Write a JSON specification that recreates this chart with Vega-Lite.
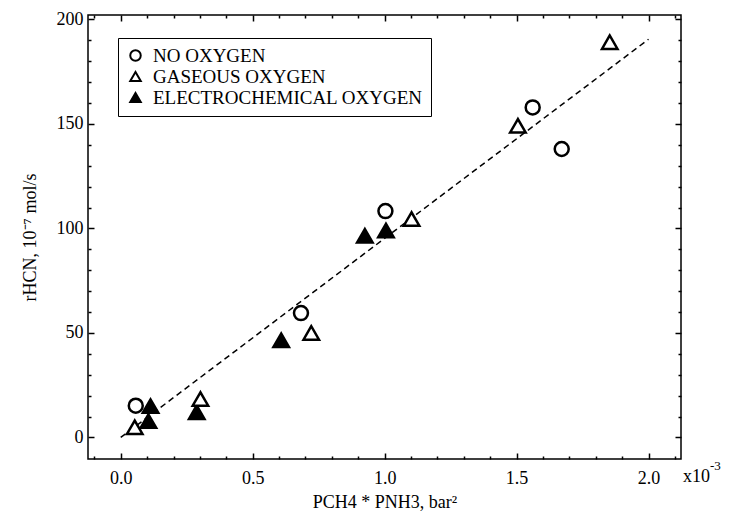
{
  "$schema": "https://vega.github.io/schema/vega-lite/v6.json",
  "width": 593,
  "height": 444,
  "autosize": "none",
  "padding": {"left": 88, "top": 15, "right": 48, "bottom": 61},
  "background": "white",
  "datasets": {
    "fit": [{"p": 0, "r": 0}, {"p": 2.0, "r": 190.5}],
    "pts": [
      {"p": 0.057, "r": 15.2, "condition": "NO OXYGEN"},
      {"p": 0.683, "r": 59.5, "condition": "NO OXYGEN"},
      {"p": 1.003, "r": 108.3, "condition": "NO OXYGEN"},
      {"p": 1.561, "r": 157.9, "condition": "NO OXYGEN"},
      {"p": 1.671, "r": 138.0, "condition": "NO OXYGEN"},
      {"p": 0.113, "r": 15.0, "condition": "ELECTROCHEMICAL OXYGEN"},
      {"p": 0.105, "r": 7.8, "condition": "ELECTROCHEMICAL OXYGEN"},
      {"p": 0.288, "r": 12.1, "condition": "ELECTROCHEMICAL OXYGEN"},
      {"p": 0.608, "r": 46.5, "condition": "ELECTROCHEMICAL OXYGEN"},
      {"p": 0.925, "r": 96.5, "condition": "ELECTROCHEMICAL OXYGEN"},
      {"p": 1.005, "r": 99.0, "condition": "ELECTROCHEMICAL OXYGEN"},
      {"p": 0.053, "r": 4.9, "condition": "GASEOUS OXYGEN"},
      {"p": 0.302, "r": 18.4, "condition": "GASEOUS OXYGEN"},
      {"p": 0.722, "r": 50.0, "condition": "GASEOUS OXYGEN"},
      {"p": 1.102, "r": 104.5, "condition": "GASEOUS OXYGEN"},
      {"p": 1.505, "r": 149.1, "condition": "GASEOUS OXYGEN"},
      {"p": 1.853, "r": 189.1, "condition": "GASEOUS OXYGEN"}
    ],
    "one": [{"k": 1}]
  },
  "layer": [
    {
      "data": {"name": "fit"},
      "mark": {"type": "line", "color": "black", "strokeWidth": 1.5, "strokeDash": [6, 4]},
      "encoding": {
        "x": {
          "field": "p", "type": "quantitative",
          "scale": {"domain": [-0.124, 2.123], "nice": false, "zero": false},
          "axis": {"orient": "bottom", "values": [0, 0.5, 1, 1.5, 2], "format": ".1f", "tickSize": -6, "labelPadding": 16, "title": "PCH4 * PNH3, bar²", "titlePadding": 6}
        },
        "y": {
          "field": "r", "type": "quantitative",
          "scale": {"domain": [-10.3, 202.1], "nice": false, "zero": false},
          "axis": {"orient": "left", "values": [0, 50, 100, 150, 200], "format": "d", "tickSize": -6, "labelPadding": 11, "title": "rHCN, 10⁻⁷ mol/s", "titlePadding": 17}
        }
      }
    },
    {
      "data": {"name": "pts"},
      "mark": {"type": "point", "filled": true, "strokeWidth": 2.5, "opacity": 1},
      "encoding": {
        "x": {
          "field": "p", "type": "quantitative",
          "axis": {"orient": "bottom", "values": [-0.1, 0.1, 0.2, 0.3, 0.4, 0.6, 0.7, 0.8, 0.9, 1.1, 1.2, 1.3, 1.4, 1.6, 1.7, 1.8, 1.9, 2.1], "tickSize": -3, "labels": false, "title": null}
        },
        "y": {
          "field": "r", "type": "quantitative",
          "axis": {"orient": "left", "values": [10, 20, 30, 40, 60, 70, 80, 90, 110, 120, 130, 140, 160, 170, 180, 190], "tickSize": -3, "labels": false, "title": null}
        },
        "shape": {
          "field": "condition", "type": "nominal",
          "scale": {"domain": ["NO OXYGEN", "GASEOUS OXYGEN", "ELECTROCHEMICAL OXYGEN"], "range": ["circle", "triangle-up", "triangle-up"]},
          "legend": {"title": null, "orient": "none", "legendX": 30, "legendY": 23}
        },
        "fill": {
          "field": "condition", "type": "nominal",
          "scale": {"domain": ["NO OXYGEN", "GASEOUS OXYGEN", "ELECTROCHEMICAL OXYGEN"], "range": ["white", "white", "black"]},
          "legend": {"title": null, "orient": "none", "legendX": 30, "legendY": 23}
        },
        "stroke": {
          "field": "condition", "type": "nominal",
          "scale": {"domain": ["NO OXYGEN", "GASEOUS OXYGEN", "ELECTROCHEMICAL OXYGEN"], "range": ["black", "black", "black"]},
          "legend": {"title": null, "orient": "none", "legendX": 30, "legendY": 23}
        },
        "size": {
          "condition": {"test": "datum.condition === 'NO OXYGEN'", "value": 195},
          "value": 240
        }
      }
    },
    {
      "data": {"name": "one"},
      "mark": {"type": "text", "text": "x10", "align": "left", "baseline": "alphabetic", "dx": 2, "dy": 23, "font": "Liberation Serif", "fontSize": 18, "color": "black"},
      "encoding": {
        "x": {"datum": 2.123, "type": "quantitative", "axis": {"orient": "top", "values": [0, 0.5, 1, 1.5, 2], "tickSize": -6, "labels": false, "title": null}},
        "y": {"datum": -10.3, "type": "quantitative", "axis": {"orient": "right", "values": [0, 50, 100, 150, 200], "tickSize": -6, "labels": false, "title": null}}
      }
    },
    {
      "data": {"name": "one"},
      "mark": {"type": "text", "text": "-3", "align": "left", "baseline": "alphabetic", "dx": 29, "dy": 11, "font": "Liberation Serif", "fontSize": 13, "color": "black"},
      "encoding": {
        "x": {"datum": 2.123, "type": "quantitative", "axis": {"orient": "top", "values": [-0.1, 0.1, 0.2, 0.3, 0.4, 0.6, 0.7, 0.8, 0.9, 1.1, 1.2, 1.3, 1.4, 1.6, 1.7, 1.8, 1.9, 2.1], "tickSize": -3, "labels": false, "title": null}},
        "y": {"datum": -10.3, "type": "quantitative", "axis": {"orient": "right", "values": [10, 20, 30, 40, 60, 70, 80, 90, 110, 120, 130, 140, 160, 170, 180, 190], "tickSize": -3, "labels": false, "title": null}}
      }
    }
  ],
  "resolve": {"axis": {"x": "independent", "y": "independent"}},
  "config": {
    "font": "Liberation Serif",
    "view": {"stroke": "black", "strokeWidth": 1.5},
    "axis": {
      "domain": false, "grid": false, "tickColor": "black", "tickWidth": 1.5,
      "labelFont": "Liberation Serif", "labelFontSize": 18, "labelColor": "black",
      "labelFlush": false, "labelOverlap": false,
      "titleFont": "Liberation Serif", "titleFontSize": 18, "titleFontWeight": "normal", "titleColor": "black"
    },
    "legend": {
      "labelFont": "Liberation Serif", "labelFontSize": 19, "labelColor": "black",
      "symbolSize": 110, "symbolStrokeWidth": 2,
      "strokeColor": "black", "fillColor": "white", "padding": 8, "rowPadding": 1, "labelOffset": 8, "labelLimit": 400
    }
  }
}
